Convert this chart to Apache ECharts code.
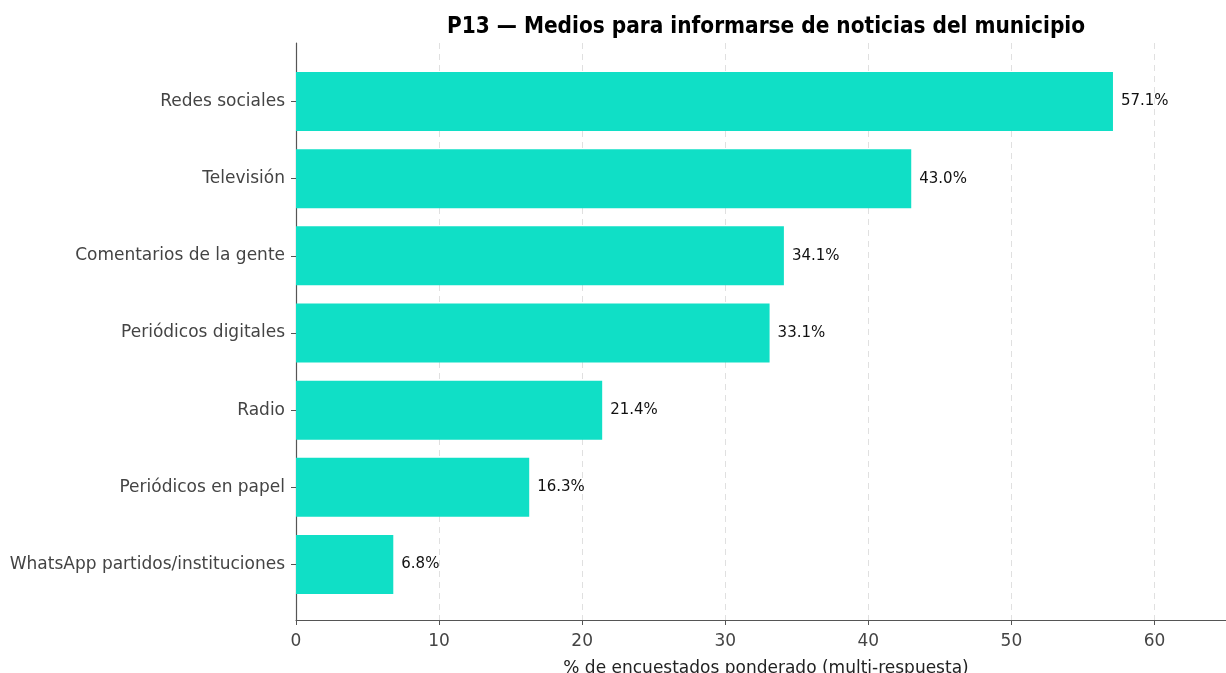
<!DOCTYPE html>
<html>
<head>
    <title>P13</title>
    <meta charset="utf-8">
    <script type="text/javascript" src="https://cdn.jsdelivr.net/npm/echarts@6/dist/echarts.min.js"></script>
    <style>
        body { margin: 0; background: #fff; }
    </style>
</head>
<body>
    <div id="chart" style="width:1226px; height:673px;"></div>
    <script>
        // categories top to bottom, values in % of respondents
        const medios = ['Redes sociales', 'Televisión', 'Comentarios de la gente', 'Periódicos digitales',
            'Radio', 'Periódicos en papel', 'WhatsApp partidos/instituciones'];
        const porcentajes = [57.1, 43.0, 34.1, 33.1, 21.4, 16.3, 6.8];
        const xTicks = [0, 10, 20, 30, 40, 50, 60];

        const chart = echarts.init(document.getElementById('chart'));
        const font = 'DejaVu Sans';
        chart.setOption({
            animation: false,
            title: {
                text: 'P13 — Medios para informarse de noticias del municipio',
                left: 761, top: 11, textAlign: 'center',
                textStyle: { fontFamily: 'DejaVu Sans Condensed', fontWeight: 'bold', fontSize: 22.4, color: '#000' }
            },
            grid: [
                { left: 296, width: 930, top: 63, height: 540, outerBoundsMode: 'none' },
                { left: 296, width: 930, top: 43, height: 577, outerBoundsMode: 'none' }
            ],
            xAxis: [
                { gridIndex: 0, type: 'value', min: 0, max: 65, interval: 10, show: false },
                {
                    gridIndex: 1, type: 'value', min: 0, max: 65, interval: 10,
                    name: '% de encuestados ponderado (multi-respuesta)', nameLocation: 'middle', nameGap: 40,
                    nameTextStyle: { fontFamily: font, fontSize: 17, color: '#222', padding: [0, 0, 0, 10] },
                    axisLine: { lineStyle: { color: '#555', width: 1.2 } },
                    axisTick: { show: true, length: 5, customValues: xTicks, lineStyle: { color: '#555' } },
                    axisLabel: {
                        fontFamily: font, fontSize: 17, color: '#444', margin: 13,
                        customValues: xTicks
                    },
                    splitLine: { show: true, lineStyle: { color: '#e0e0e0', type: [6, 5], width: 1 } }
                }
            ],
            yAxis: [
                {
                    gridIndex: 0, type: 'category', data: medios, inverse: true,
                    axisLine: { show: false },
                    axisTick: { show: true, length: 5, alignWithLabel: true, lineStyle: { color: '#555' } },
                    axisLabel: { fontFamily: font, fontSize: 17, color: '#444', margin: 11 }
                },
                {
                    gridIndex: 1, type: 'value', min: 0, max: 1,
                    axisLine: { show: true, lineStyle: { color: '#555', width: 1.2 } },
                    axisTick: { show: false }, axisLabel: { show: false }, splitLine: { show: false }
                }
            ],
            series: [{
                type: 'bar', xAxisIndex: 0, yAxisIndex: 0,
                data: porcentajes, barWidth: 59,
                itemStyle: { color: '#10dfc6' },
                label: {
                    show: true, position: 'right', distance: 8,
                    fontFamily: font, fontSize: 15, color: '#111',
                    formatter: p => p.value.toFixed(1) + '%'
                }
            }]
        });
    </script>
</body>
</html>
